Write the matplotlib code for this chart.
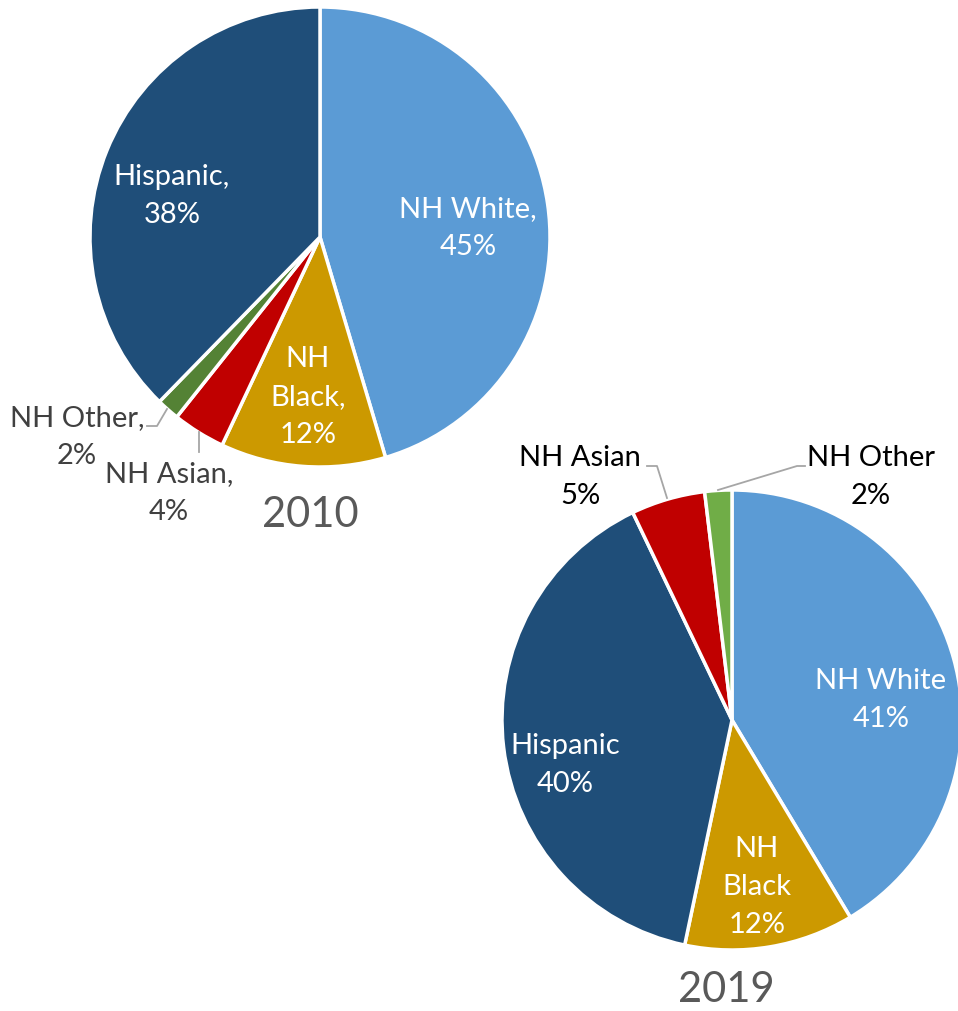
import matplotlib
matplotlib.use("Agg")  # no display
import matplotlib.pyplot as plt

plt.rcParams["font.family"] = ["Lato", "DejaVu Sans"]

# ---------------------------------------------------------------------------
# Data (shares in percent, clockwise from 12 o'clock)
# ---------------------------------------------------------------------------
categories_2010 = ["NH White", "NH Black", "NH Asian", "NH Other", "Hispanic"]
shares_2010 = [45.4, 11.6, 3.7, 1.6, 37.7]
labels_2010 = ["NH White,\n45%", "NH\nBlack,\n12%", "NH Asian,\n4%",
               "NH Other,\n2%", "Hispanic,\n38%"]

categories_2019 = ["NH White", "NH Black", "Hispanic", "NH Asian", "NH Other"]
shares_2019 = [41.4, 11.9, 39.6, 5.2, 1.9]
labels_2019 = ["NH White\n41%", "NH\nBlack\n12%", "Hispanic\n40%",
               "NH Asian\n5%", "NH Other\n2%"]

# ---------------------------------------------------------------------------
# Styling / layout (pixel coordinates, y measured from the top)
# ---------------------------------------------------------------------------
W, H = 958, 1011
colors_2010 = ["#5B9BD5", "#CC9900", "#C00000", "#548235", "#1F4E79"]
colors_2019 = ["#5B9BD5", "#CC9900", "#1F4E79", "#C00000", "#70AD47"]

pies = [
    dict(year="2010", values=shares_2010, labels=labels_2010, colors=colors_2010,
         center=(320, 237), radius=230, title_pos=(310, 515),
         label_pos=[(468, 228), (308, 397), (169, 493), (77, 437), (172, 196)],
         label_col=["white", "white", "#404040", "#404040", "white"],
         leaders=[[(147, 426), (157, 426), (167, 409)],
                  [(199, 432), (199, 452)]]),
    dict(year="2019", values=shares_2019, labels=labels_2019, colors=colors_2019,
         center=(732, 720), radius=230, title_pos=(726, 990),
         label_pos=[(881, 700), (757, 887), (565, 765), (580, 477), (871, 477)],
         label_col=["white", "white", "white", "black", "black"],
         leaders=[[(647, 466), (657, 466), (667, 498)],
                  [(718, 490), (797, 466), (805, 466)]]),
]

fig = plt.figure(figsize=(W / 100, H / 100), dpi=100)
ax = fig.add_axes([0, 0, 1, 1])

for p in pies:
    cx, cy = p["center"]
    ax.pie(p["values"], colors=p["colors"], startangle=90, counterclock=False,
           center=(cx, H - cy), radius=p["radius"],
           wedgeprops=dict(edgecolor="white", linewidth=2.5))
    for txt, (x, y), col in zip(p["labels"], p["label_pos"], p["label_col"]):
        ax.text(x, H - y, txt, ha="center", va="center", color=col,
                fontsize=21, linespacing=1.57)
    for line in p["leaders"]:
        xs = [pt[0] for pt in line]
        ys = [H - pt[1] for pt in line]
        ax.plot(xs, ys, color="#A6A6A6", lw=1.3)
    tx, ty = p["title_pos"]
    ax.text(tx, H - ty, p["year"], ha="center", va="center", color="#595959",
            fontsize=30)

ax.set_xlim(0, W)
ax.set_ylim(0, H)
ax.set_aspect("equal")
ax.axis("off")

fig.savefig("out.png", dpi=100)
